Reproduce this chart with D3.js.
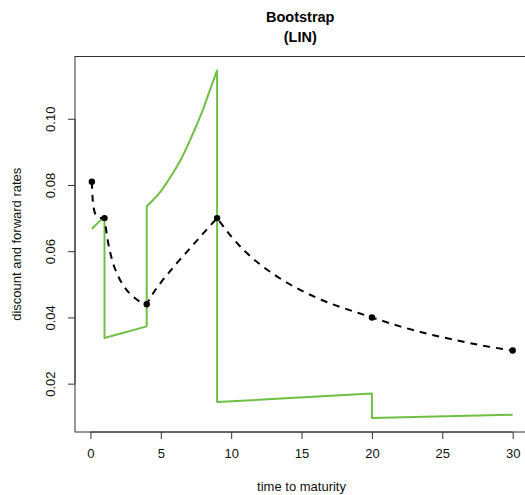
<!DOCTYPE html>
<html>
<head>
<meta charset="utf-8">
<script src="https://cdn.jsdelivr.net/npm/d3@7"></script>
<style>
  html, body { margin: 0; padding: 0; background: #fff; }
  svg { display: block; font-family: "Liberation Sans", Arial, Helvetica, sans-serif; }
</style>
</head>
<body>
<svg id="chart" width="525" height="495"></svg>
<script>
// ---- data ----
const titleLines = ["Bootstrap", "(LIN)"];
const xLabel = "time to maturity";
const yLabel = "discount and forward rates";
const xTicks = [0, 5, 10, 15, 20, 25, 30];
const yTicks = [0.02, 0.04, 0.06, 0.08, 0.10];

// market (bootstrapped) points
const knotT    = [0.1, 1, 4, 9, 20, 30];
const knotRate = [0.081, 0.070, 0.044, 0.070, 0.040, 0.030];

// discount (spot) curve, dashed
const spotT    = [0.1, 0.15, 0.2, 0.3, 0.4, 0.5, 0.7, 1,
                  1.25, 1.5, 2, 2.5, 3, 3.5, 4,
                  4.5, 5, 6, 7, 8, 9,
                  10, 11, 12, 13, 14, 15, 16, 17, 18, 19, 20,
                  22, 24, 26, 28, 30];
const spotRate = [0.081, 0.0763, 0.0740, 0.0718, 0.0708, 0.0703, 0.0700, 0.0700,
                  0.0628, 0.0580, 0.0522, 0.0487, 0.0464, 0.0448, 0.0440,
                  0.0476, 0.0505, 0.0557, 0.0605, 0.0653, 0.0700,
                  0.0645, 0.0599, 0.0562, 0.0531, 0.0504, 0.0481, 0.0461, 0.0443, 0.0428, 0.0414, 0.0400,
                  0.0373, 0.0350, 0.0331, 0.0314, 0.0300];

// forward curve, green (repeated t = jump)
const fwdT    = [0.1, 1, 1, 4, 4, 4.5, 5, 5.5, 6, 6.5, 7, 7.5, 8, 8.5, 9, 9, 20, 20, 30];
const fwdRate = [0.0668, 0.0705, 0.0338, 0.0373, 0.0735, 0.0757, 0.0781, 0.0812, 0.0845,
                 0.0883, 0.0928, 0.0976, 0.1028, 0.1088, 0.1146, 0.01445, 0.0170, 0.0096, 0.0106];

// ---- drawing ----
const svg = d3.select("#chart");
const plot = { left: 75, right: 529.5, top: 56.5, bottom: 432 };

function padded(ext) { const p = (ext[1] - ext[0]) * 0.04; return [ext[0] - p, ext[1] + p]; }
const xExt = padded(d3.extent(knotT.concat(spotT, fwdT)));
const yExt = padded(d3.extent(knotRate.concat(spotRate, fwdRate)));

const x = d3.scaleLinear().domain(xExt).range([plot.left, plot.right]);
const y = d3.scaleLinear().domain(yExt).range([plot.bottom, plot.top]);

const axisCol = "#333";

// x axis
const xAxis = svg.append("g").attr("transform", `translate(0,${plot.bottom})`)
  .call(d3.axisBottom(x).tickValues(xTicks).tickFormat(d3.format("d")).tickSize(7).tickSizeOuter(0).tickPadding(10));
xAxis.select(".domain").attr("d", `M${x(xTicks[0])},0H${x(xTicks[xTicks.length-1])}`);
xAxis.selectAll("line").attr("stroke", axisCol);
xAxis.select(".domain").attr("stroke", axisCol);
xAxis.selectAll("text").attr("font-size", 13).attr("fill", "#111")
  .attr("font-family", '"Liberation Sans", Arial, sans-serif');

// y axis
const yAxis = svg.append("g").attr("transform", `translate(${plot.left},0)`)
  .call(d3.axisLeft(y).tickValues(yTicks).tickFormat(d3.format(".2f")).tickSize(7).tickSizeOuter(0));
yAxis.select(".domain").attr("d", `M0,${y(yTicks[0])}V${y(yTicks[yTicks.length-1])}`).attr("stroke", axisCol);
yAxis.selectAll("line").attr("stroke", axisCol);
yAxis.selectAll("text")
  .attr("font-size", 13).attr("fill", "#111")
  .attr("font-family", '"Liberation Sans", Arial, sans-serif')
  .attr("x", null).attr("dy", null)
  .attr("text-anchor", "middle")
  .attr("transform", d => `translate(${-20},0) rotate(-90)`);

// box
svg.append("rect")
  .attr("x", plot.left).attr("y", plot.top)
  .attr("width", plot.right - plot.left).attr("height", plot.bottom - plot.top)
  .attr("fill", "none").attr("stroke", axisCol).attr("stroke-width", 1);

// helper: join pieces into one continuous path
function joined(pieces, gen) {
  return pieces.map((p, i) => { const s = gen(p); return i === 0 ? s : s.replace(/^M/, "L"); }).join("");
}
const lineGen = d3.line().x(d => x(d[0])).y(d => y(d[1])).curve(d3.curveMonotoneX);

// forward curve pieces (split at jumps)
const fwdPieces = [];
fwdT.forEach((t, i) => {
  if (i === 0 || t === fwdT[i - 1]) fwdPieces.push([]);
  fwdPieces[fwdPieces.length - 1].push([t, fwdRate[i]]);
});
svg.append("path")
  .attr("d", joined(fwdPieces, lineGen))
  .attr("fill", "none").attr("stroke", "#6fbf45").attr("stroke-width", 2)
  .attr("stroke-linejoin", "round");

// spot curve pieces (split at knots)
const spotPieces = [];
spotT.forEach((t, i) => {
  if (i === 0) spotPieces.push([]);
  spotPieces[spotPieces.length - 1].push([t, spotRate[i]]);
  if (i > 0 && i < spotT.length - 1 && knotT.includes(t)) spotPieces.push([[t, spotRate[i]]]);
});
svg.append("path")
  .attr("d", joined(spotPieces, lineGen))
  .attr("fill", "none").attr("stroke", "#000").attr("stroke-width", 2)
  .attr("stroke-dasharray", "7,6");

// knot points
svg.append("g").selectAll("circle").data(knotT).join("circle")
  .attr("cx", d => x(d)).attr("cy", (d, i) => y(knotRate[i])).attr("r", 3.2).attr("fill", "#000");

// titles
const cx = (plot.left + plot.right) / 2 - 2;
svg.append("text").attr("x", cx).attr("y", 22).attr("text-anchor", "middle")
  .attr("font-size", 14.5).attr("font-weight", "bold").text(titleLines[0]);
svg.append("text").attr("x", cx).attr("y", 42).attr("text-anchor", "middle")
  .attr("font-size", 14.5).attr("font-weight", "bold").text(titleLines[1]);

svg.append("text").attr("x", x(15)).attr("y", 491).attr("text-anchor", "middle")
  .attr("font-size", 13).attr("fill", "#111").text(xLabel);
svg.append("text").attr("transform", `translate(20.5,${(plot.top + plot.bottom) / 2}) rotate(-90)`)
  .attr("text-anchor", "middle").attr("font-size", 13).attr("fill", "#111").text(yLabel);
</script>
</body>
</html>
